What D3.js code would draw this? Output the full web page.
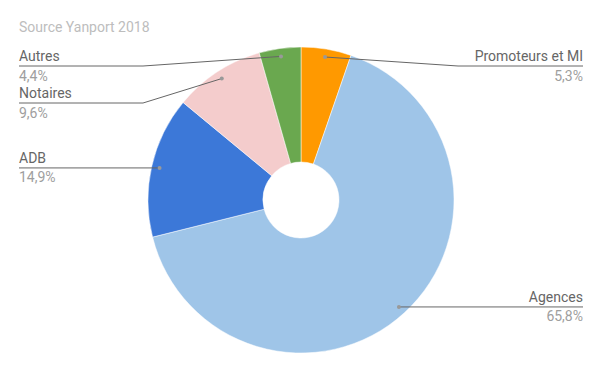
<!DOCTYPE html>
<html>
<head>
<meta charset="utf-8">
<script src="https://cdn.jsdelivr.net/npm/d3@7"></script>
<style>
  body { margin: 0; background: #fff; }
  svg { font-family: Roboto, sans-serif; }
</style>
</head>
<body>
<svg id="chart"></svg>
<script>
// Data
const categories = ['Promoteurs et MI', 'Agences', 'ADB', 'Notaires', 'Autres'];
const values = [5.3, 65.8, 14.9, 9.6, 4.4];
const valueLabels = ['5,3%', '65,8%', '14,9%', '9,6%', '4,4%'];
const colors = ['#ff9900', '#9fc5e8', '#3c78d8', '#f4cccc', '#6aa84f'];

const w = 602, h = 372;
const cx = 301, cy = 200;
const outerR = 153, innerR = 38;

const svg = d3.select('#chart').attr('width', w).attr('height', h);

svg.append('text')
  .attr('x', 19).attr('y', 32)
  .attr('fill', '#bdbdbd')
  .style('font-size', '14px')
  .text('Source Yanport 2018');

const data = categories.map((c, i) => ({ name: c, value: values[i], label: valueLabels[i], color: colors[i] }));
const pie = d3.pie().sort(null).value(d => d.value);
const slices = pie(data);
const arc = d3.arc().innerRadius(innerR).outerRadius(outerR);
const dotArc = d3.arc().innerRadius(145).outerRadius(145);

const g = svg.append('g').attr('transform', `translate(${cx},${cy})`);
g.selectAll('path')
  .data(slices)
  .join('path')
  .attr('d', arc)
  .attr('fill', d => d.data.color)
  .attr('stroke', '#fff')
  .attr('stroke-width', 0.5);

// label layout: right side and left side, pushed down to avoid overlaps
const minY = 66, gap = 37;
const items = slices.map(s => {
  const [x, y] = dotArc.centroid(s);
  return { s, dx: cx + x, dy: cy + y, right: x >= 0 };
});
['right', 'left'].forEach(side => {
  const list = items.filter(d => (side === 'right') === d.right).sort((a, b) => a.dy - b.dy);
  let prev = -Infinity;
  list.forEach(d => {
    d.ly = Math.max(d.dy, minY, prev + gap);
    prev = d.ly;
  });
});

const lab = svg.append('g');
items.forEach(d => {
  const edgeX = d.right ? 583 : 19;
  const elbowX = d.right ? cx + 157 : cx - 158;
  const pts = Math.abs(d.ly - d.dy) > 0.5
    ? [[edgeX, d.ly], [elbowX, d.ly], [d.dx, d.dy]]
    : [[edgeX, d.ly], [d.dx, d.dy]];
  lab.append('path')
    .attr('d', d3.line()(pts))
    .attr('fill', 'none')
    .attr('stroke', '#666')
    .attr('stroke-width', 1);
  lab.append('circle')
    .attr('cx', d.dx).attr('cy', d.dy).attr('r', 2)
    .attr('fill', '#999');
  const anchor = d.right ? 'end' : 'start';
  lab.append('text')
    .attr('x', edgeX).attr('y', d.ly - 5)
    .attr('text-anchor', anchor)
    .attr('fill', '#666')
    .style('font-size', '14px')
    .text(d.s.data.name);
  lab.append('text')
    .attr('x', edgeX).attr('y', d.ly + 14.5)
    .attr('text-anchor', anchor)
    .attr('fill', '#9e9e9e')
    .style('font-size', '14px')
    .text(d.s.data.label);
});
</script>
</body>
</html>
